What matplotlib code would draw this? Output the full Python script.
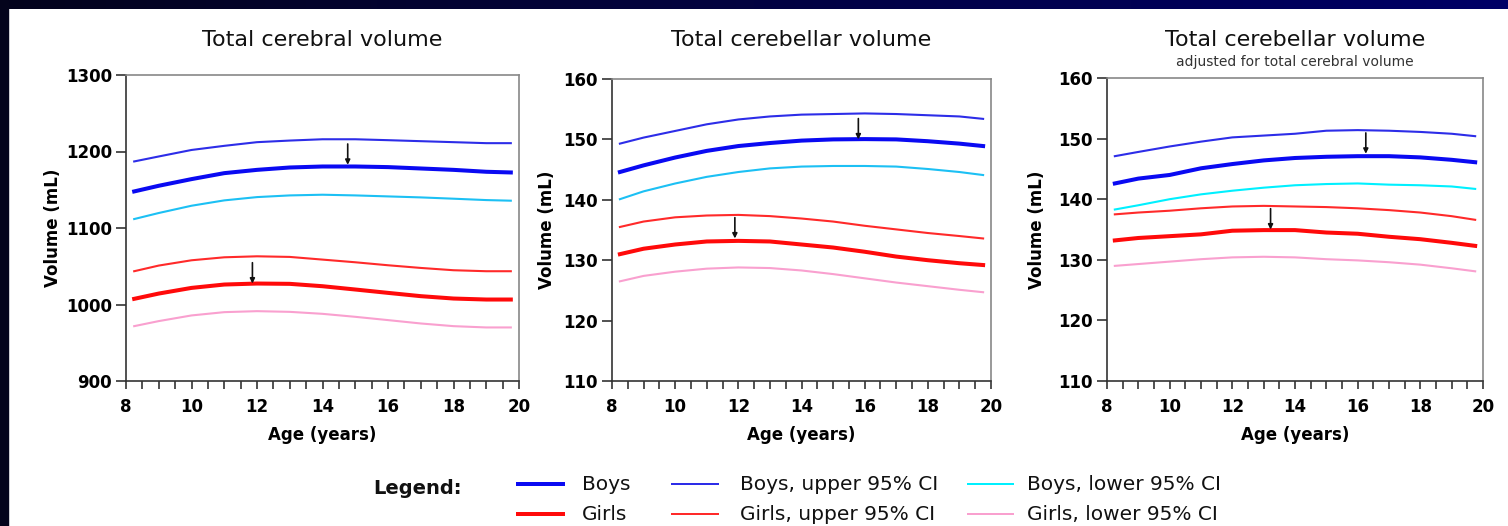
import matplotlib
matplotlib.use("Agg")
import matplotlib.pyplot as plt
import numpy as np
from matplotlib.lines import Line2D
from matplotlib.patches import Rectangle

W, H = 1508, 526

ages = [8.25, 9, 10, 11, 12, 13, 14, 15, 16, 17, 18, 19, 19.75]

# Total cerebral volume (mL)
cerebral_boys_up = [1187, 1193.5, 1202, 1207.4, 1212.2, 1214.3, 1216, 1216, 1214.8, 1213.5, 1212.2, 1210.9, 1210.9]
cerebral_boys = [1147.8, 1155.2, 1163.9, 1171.7, 1176, 1179.1, 1180.4, 1180.4, 1179.6, 1177.8, 1176, 1173.5, 1172.6]
cerebral_boys_lo = [1111.7, 1119.6, 1129.1, 1136.1, 1140.4, 1142.6, 1143.5, 1142.6, 1141.3, 1140, 1138.3, 1136.5, 1135.7]
cerebral_girls_up = [1043.5, 1050.9, 1057.8, 1061.7, 1063, 1062.2, 1058.7, 1055.2, 1051.3, 1047.8, 1044.8, 1043.5, 1043.5]
cerebral_girls = [1007.4, 1014.3, 1021.7, 1026.1, 1027.4, 1027, 1023.9, 1019.6, 1015.2, 1010.9, 1007.8, 1006.5, 1006.5]
cerebral_girls_lo = [971.7, 978.3, 985.7, 990, 991.3, 990.4, 987.8, 983.9, 979.6, 975.2, 971.7, 970, 970]

# Total cerebellar volume (mL)
cerebellar_boys_up = [149.3, 150.3, 151.4, 152.5, 153.3, 153.8, 154.1, 154.2, 154.3, 154.2, 154.0, 153.8, 153.4]
cerebellar_boys = [144.6, 145.7, 147.0, 148.1, 148.9, 149.4, 149.8, 150.0, 150.05, 150.0, 149.7, 149.3, 148.9]
cerebellar_boys_lo = [140.1, 141.4, 142.7, 143.8, 144.6, 145.2, 145.5, 145.6, 145.6, 145.5, 145.1, 144.6, 144.1]
cerebellar_girls_up = [135.5, 136.4, 137.1, 137.4, 137.5, 137.3, 136.9, 136.4, 135.7, 135.1, 134.5, 134.0, 133.6]
cerebellar_girls = [131.0, 131.9, 132.6, 133.1, 133.2, 133.1, 132.6, 132.1, 131.4, 130.6, 130.0, 129.5, 129.2]
cerebellar_girls_lo = [126.5, 127.4, 128.1, 128.6, 128.8, 128.7, 128.3, 127.7, 127.0, 126.3, 125.7, 125.1, 124.7]

# Total cerebellar volume adjusted for total cerebral volume (mL)
adjusted_boys_up = [147.1, 147.8, 148.7, 149.5, 150.2, 150.5, 150.8, 151.3, 151.4, 151.3, 151.1, 150.8, 150.4]
adjusted_boys = [142.6, 143.4, 144.0, 145.1, 145.8, 146.4, 146.8, 147.0, 147.1, 147.1, 146.9, 146.5, 146.1]
adjusted_boys_lo = [138.3, 139.0, 140.0, 140.8, 141.4, 141.9, 142.3, 142.5, 142.6, 142.4, 142.3, 142.1, 141.7]
adjusted_girls_up = [137.5, 137.8, 138.1, 138.5, 138.8, 138.9, 138.8, 138.7, 138.5, 138.2, 137.8, 137.2, 136.6]
adjusted_girls = [133.2, 133.6, 133.9, 134.2, 134.8, 134.9, 134.9, 134.5, 134.3, 133.8, 133.4, 132.8, 132.3]
adjusted_girls_lo = [129.0, 129.3, 129.7, 130.1, 130.4, 130.5, 130.4, 130.1, 129.9, 129.6, 129.2, 128.6, 128.1]

# peak (age, volume) marked with arrows: boys, girls
cerebral_peaks = [(14.77, 1182.6), (11.86, 1027.4)]
cerebellar_peaks = [(15.8, 150.0), (11.89, 133.6)]
adjusted_peaks = [(16.26, 147.5), (13.22, 135.0)]

titles = ["Total cerebral volume", "Total cerebellar volume", "Total cerebellar volume"]
subtitles = [None, None, "adjusted for total cerebral volume"]
ylims = [(900, 1300), (110, 160), (110, 160)]
yticks = [[900, 1000, 1100, 1200, 1300], [110, 120, 130, 140, 150, 160], [110, 120, 130, 140, 150, 160]]

series_labels = ["Boys", "Girls", "Boys, upper 95% CI", "Girls, upper 95% CI",
                 "Boys, lower 95% CI", "Girls, lower 95% CI"]

BLUE = "#0a0af2"
BLUE_UP = "#2d2de8"
RED = "#ff0a0a"
RED_UP = "#ff2a2a"
PINK = "#f9a0cf"
CYAN_DARK = "#1cc0f4"
CYAN = "#00f0ff"

panels = [
    (cerebral_boys, cerebral_boys_up, cerebral_boys_lo, cerebral_girls, cerebral_girls_up, cerebral_girls_lo, cerebral_peaks, CYAN_DARK),
    (cerebellar_boys, cerebellar_boys_up, cerebellar_boys_lo, cerebellar_girls, cerebellar_girls_up, cerebellar_girls_lo, cerebellar_peaks, CYAN_DARK),
    (adjusted_boys, adjusted_boys_up, adjusted_boys_lo, adjusted_girls, adjusted_girls_up, adjusted_girls_lo, adjusted_peaks, CYAN),
]

# axes boxes in pixels: left, right, top, bottom
boxes = [(126, 519, 75, 381), (612, 991, 79, 381), (1107, 1483, 78, 381)]
ylabel_px = [53, 547, 1037]
xlabel_py = 435


def fx(px):
    return px / W


def fy(py):
    return 1 - py / H


fig = plt.figure(figsize=(W / 100, H / 100), dpi=100, facecolor="white")

# dark slide frame: left strip and top gradient band
fig.patches.append(Rectangle((0, 0), fx(8), 1, transform=fig.transFigure, color="#04041c", zorder=0))
band = fig.add_axes([0, fy(9), 1, 9 / H])
band.imshow(np.linspace(0, 1, 256)[None, :], aspect="auto",
            cmap=matplotlib.colors.LinearSegmentedColormap.from_list("navy", ["#04041c", "#000066"]))
band.axis("off")

for i, (l, r, t, b) in enumerate(boxes):
    ax = fig.add_axes([fx(l), fy(b), fx(r - l), (b - t) / H])
    boys, boys_up, boys_lo, girls, girls_up, girls_lo, peaks, cyan = panels[i]

    ax.plot(ages, boys_up, color=BLUE_UP, lw=1.5)
    ax.plot(ages, boys, color=BLUE, lw=2.9)
    ax.plot(ages, boys_lo, color=cyan, lw=1.5)
    ax.plot(ages, girls_up, color=RED_UP, lw=1.5)
    ax.plot(ages, girls, color=RED, lw=2.9)
    ax.plot(ages, girls_lo, color=PINK, lw=1.5)

    for px, py in peaks:
        ax.annotate("", xy=(px, py), xytext=(0, 15), textcoords="offset points",
                    arrowprops=dict(arrowstyle="-|>", color="#111111", lw=1.2,
                                    mutation_scale=7, shrinkA=0, shrinkB=0))

    ax.set_xlim(8, 20)
    ax.set_ylim(*ylims[i])
    ax.set_xticks(range(8, 21, 2))
    ax.set_xticks(np.arange(8.5, 20, 0.5), minor=True)
    ax.set_yticks(yticks[i])
    ax.tick_params(axis="x", which="both", direction="out", length=6, width=1.2,
                   color="#333333", pad=6, labelsize=12)
    ax.tick_params(axis="y", direction="out", length=7, width=1.2,
                   color="#333333", pad=3, labelsize=12)
    for lab in ax.get_xticklabels() + ax.get_yticklabels():
        lab.set_fontweight("bold")
    for side in ["left", "bottom"]:
        ax.spines[side].set_color("#333333")
        ax.spines[side].set_linewidth(1.2)
    for side in ["top", "right"]:
        ax.spines[side].set_color("#888888")
        ax.spines[side].set_linewidth(1.2)

    ax.set_xlabel("Age (years)", fontsize=12, fontweight="bold", va="center")
    ax.xaxis.set_label_coords(0.5, (b - xlabel_py) / (b - t))
    ax.set_ylabel("Volume (mL)", fontsize=12, fontweight="bold", va="center")
    ax.yaxis.set_label_coords((ylabel_px[i] - l) / (r - l), 0.5)

    cx = fx((l + r) / 2)
    fig.text(cx, fy(46), titles[i], fontsize=16, ha="center", va="baseline", color="#111111")
    if subtitles[i]:
        fig.text(cx, fy(66), subtitles[i], fontsize=10, ha="center", va="baseline", color="#333333")

# legend at the bottom
fig.text(fx(373), fy(494), "Legend:", fontsize=14, fontweight="bold", va="baseline", color="#111111")
legend_styles = [(BLUE, 4.0), (RED, 4.0), (BLUE_UP, 2.0), (RED_UP, 2.0), (CYAN, 2.0), (PINK, 2.0)]
line_x = [(518, 563), (672, 718), (968, 1013)]
text_x = [582, 740, 1027]
row_line_y = [484, 514]
row_text_y = [490, 520]
for k, label in enumerate(series_labels):
    col, row = k // 2, k % 2
    color, lw = legend_styles[k]
    x0, x1 = line_x[col]
    fig.add_artist(Line2D([fx(x0), fx(x1)], [fy(row_line_y[row])] * 2, color=color, lw=lw * 0.72,
                          transform=fig.transFigure))
    fig.text(fx(text_x[col]), fy(row_text_y[row]), label, fontsize=14.5, va="baseline", color="#111111")

fig.savefig("out.png", dpi=100, facecolor="white")
